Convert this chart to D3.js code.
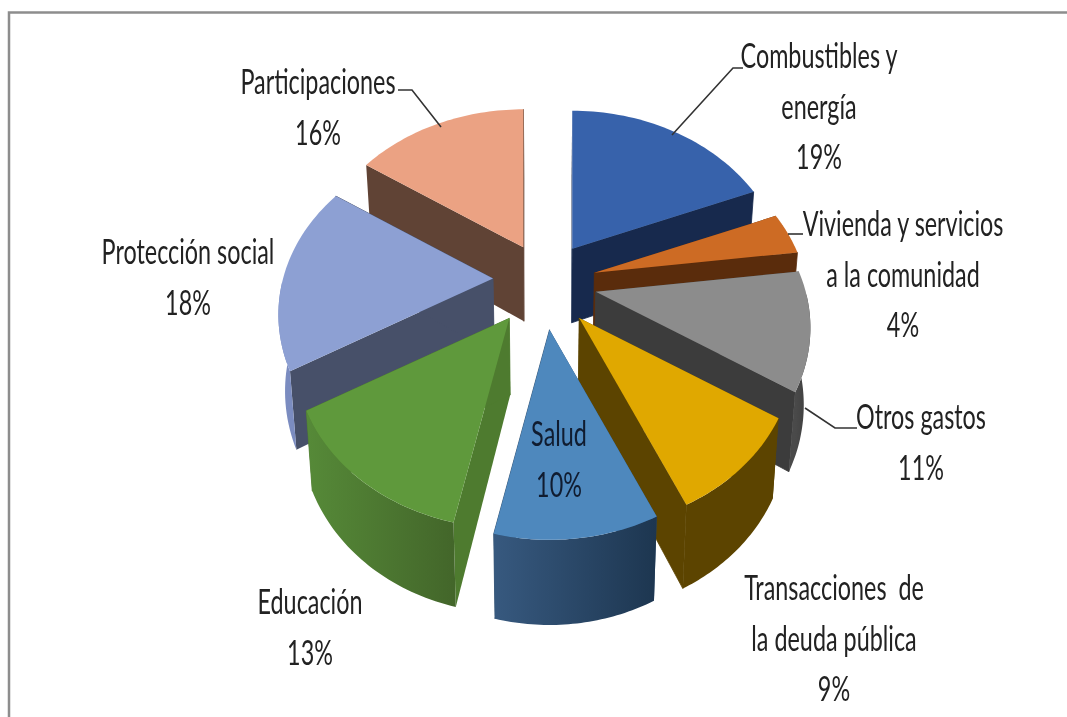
<!DOCTYPE html>
<html><head><meta charset="utf-8">
<script src="https://cdn.jsdelivr.net/npm/d3@7/dist/d3.min.js"></script>
<style>html,body{margin:0;padding:0;background:#fff;overflow:hidden}svg{display:block;filter:blur(0.5px)}</style>
</head><body><svg id="c" width="1067" height="717"></svg>
<script>
const categories = ["Combustibles y energía","Vivienda y servicios a la comunidad","Otros gastos","Transacciones de la deuda pública","Salud","Educación","Protección social","Participaciones"];
const values = [19,4,11,9.2,10.2,13.3,17.6,15.7];
const topColors = ["#3762ab","#cd6b24","#8c8c8c","#e0a800","#4e88bd","#5f993c","#8da0d3","#eba283"];
const cutColors = ["#17294d","#5a2c0c","#3c3c3c","#5c4400","#2a4a6c","#4e7b2f","#475069","#604335"];
const wallStart = ["#1d3260","#6a340f","#4a4a4a","#5c4400","#37597f","#568a38","#7b8cc0","#704e3d"];
const wallEnd   = ["#17294d","#5a2c0c","#3c3c3c","#5c4400","#1d3650","#43662a","#7b8cc0","#604335"];
const labelLines = [["Combustibles y","energía","19%"],["Vivienda y servicios","a la comunidad","4%"],["Otros gastos","11%"],["Transacciones  de","la deuda pública","9%"],["Salud","10%"],["Educación","13%"],["Protección social","18%"],["Participaciones","16%"]];
const labelX = [819,903,921,834,559,310,188,318];
const labelY = [57,225,418,589,435,603,253,83];
const leaders = [[[743,68],[733,68],[672,135]],[[803,234],[788,234]],[[857,428],[835,428],[805,408]],null,null,null,null,[[398,90],[412,90],[441,127]]];
const nudgeX = [-2,-1,0,0,-1,-5,0,3];
const nudgeY = [4,2,0,2,3,0,-2,5];
const drawOrder = [0,7,6,1,2,3,5,4];

const svg = d3.select("#c");
const defs = svg.append("defs");
const cx = 545, cy = 282, ex = 52, ey = 45;
const a = 210, b = 166.6, p = 0.207;
const depth = d3.scaleLinear().domain([248,536]).range([74,85]);
const inward = 0.025;

const arcs = d3.pie().sort(null).startAngle(0).endAngle(2*Math.PI)(values);
const line = d3.line().x(d=>d[0]).y(d=>d[1]);
const project = (apex,t)=>{const u=Math.sin(t),v=Math.cos(t),w=1+p*v;return [apex[0]+a*u/w,apex[1]-b*v/w];};
const drop = q=>[q[0]+(cx-q[0])*inward,q[1]+depth(q[1])];

svg.append("path").attr("d","M9,717V12.5H1067").attr("fill","none").attr("stroke","#8d8d8d").attr("stroke-width",2.5);

const g = svg.append("g");
drawOrder.forEach(i=>{
  const s=arcs[i], mid=(s.startAngle+s.endAngle)/2;
  const apex=[cx+ex*Math.sin(mid)+nudgeX[i],cy-ey*Math.cos(mid)+nudgeY[i]];
  const angles=d3.range(0,41).map(k=>s.startAngle+(s.endAngle-s.startAngle)*k/40);
  const pts=angles.map(t=>project(apex,t));
  const apexLow=drop(apex);
  const first=pts[0], last=pts[pts.length-1];
  const sg=g.append("g");
  sg.append("path").attr("d",line([apex,first,drop(first),apexLow])+"Z").attr("fill",cutColors[i]);
  sg.append("path").attr("d",line([apex,last,drop(last),apexLow])+"Z").attr("fill",cutColors[i]).attr("stroke",cutColors[i]).attr("stroke-width",0.8);
  const front=angles.filter(t=>t>Math.PI/2&&t<3*Math.PI/2).map(t=>project(apex,t));
  if(front.length>1){
    const x0=d3.min(front,d=>d[0]), x1=d3.max(front,d=>d[0]);
    const grad=defs.append("linearGradient").attr("id","w"+i).attr("gradientUnits","userSpaceOnUse")
      .attr("x1",x0).attr("x2",x1).attr("y1",0).attr("y2",0);
    grad.append("stop").attr("offset",0).attr("stop-color",wallStart[i]);
    grad.append("stop").attr("offset",1).attr("stop-color",wallEnd[i]);
    sg.append("path").attr("d",line(front.concat(front.map(drop).reverse()))+"Z").attr("fill",`url(#w${i})`);
  }
  sg.append("path").attr("d",line([apex].concat(pts))+"Z").attr("fill",topColors[i]);
});

leaders.forEach(l=>{ if(l) svg.append("path").attr("d",line(l)).attr("fill","none").attr("stroke","#333").attr("stroke-width",1.6); });

labelLines.forEach((lines,i)=>{
  lines.forEach((t,j)=>{
    svg.append("text").attr("transform",`translate(${labelX[i]},${labelY[i]+j*50.5+11}) scale(0.935,1.38)`)
      .attr("text-anchor","middle").style("white-space","pre")
      .attr("font-family","Lato,'Liberation Sans',sans-serif")
      .attr("font-size",25).attr("fill",i===4?"#101c30":"#222").text(t);
  });
});
</script></body></html>
